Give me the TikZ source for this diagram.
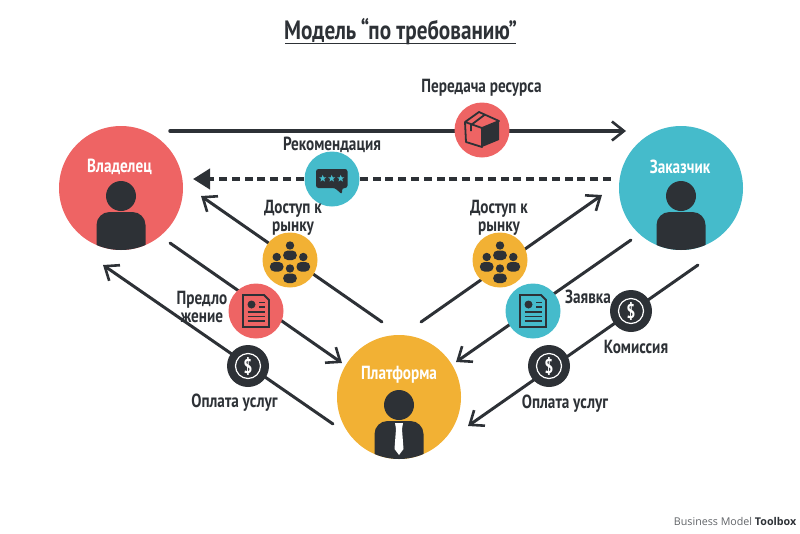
\documentclass[tikz,border=0pt]{standalone}
\usepackage{fontspec}
\setmainfont[FakeStretch=0.8]{PT Sans}
\newfontfamily\footfont{Open Sans}
\usetikzlibrary{arrows.meta,shapes.geometric}
\definecolor{inkdark}{HTML}{2D3136}
\definecolor{redfill}{HTML}{EE6464}
\definecolor{tealfill}{HTML}{45BBCB}
\definecolor{goldfill}{HTML}{F2B134}
\tikzset{
  bigdisc/.style={circle, minimum size=124pt, inner sep=0pt},
  icondisc/.style={circle, minimum size=55pt, inner sep=0pt},
  dollardisc/.style={circle, minimum size=42pt, inner sep=0pt, fill=inkdark},
  flow/.style={draw=inkdark, line width=3pt, line cap=round, -{Straight Barb[length=12pt,width=19pt,line width=2.6pt]}},
  tag/.style={font=\fontsize{19}{18}\selectfont\bfseries, text=inkdark, align=center, inner sep=0pt},
  whitetag/.style={font=\fontsize{19}{19}\selectfont\bfseries, text=white, inner sep=0pt},
  pics/personfig/.style={code={
    \fill[inkdark] (0,8) circle (15);
    \begin{scope}
      \clip (0,0) circle (62);
      \fill[inkdark, rounded corners=13pt] (-24.5,75) -- (-24.5,24) -- (24.5,24) -- (24.5,75) -- cycle;
    \end{scope}
  }},
  pics/minifig/.style={code={
    \fill[inkdark] (0,-4.5) circle (4.2);
    \fill[inkdark, rounded corners=4.5pt] (-6.8,10) -- (-6.8,0.5) -- (6.8,0.5) -- (6.8,10) -- cycle;
  }},
  pics/groupfig/.style={code={
    \pic at (0,-10) {minifig};
    \pic at (-13.3,1.5) {minifig};
    \pic at (13.3,1.5) {minifig};
    \pic at (0,13) {minifig};
  }},
  pics/docfig/.style={code={
    \draw[inkdark, line width=1.8pt, line join=miter] (-13,-16) -- (8,-16) -- (13,-11) -- (13,16) -- (-13,16) -- cycle;
    \fill[inkdark] (-4.5,-6.5) circle (4);
    \draw[inkdark, line width=1.6pt] (3,-8.5) -- (9,-8.5) (3,-4) -- (9,-4) (-8.5,0.8) -- (9,0.8) (-8.5,5.5) -- (9,5.5) (-8.5,10) -- (9,10);
  }},
  pics/dollarfig/.style={code={
    \draw[white, line width=1.2pt] (0,0) circle (12.5);
    \node[text=white, font=\fontsize{20}{20}\selectfont\bfseries, inner sep=0pt] (dollarsign) at (0,0) {\$};
  }}
}
\begin{document}
\begin{tikzpicture}[x=1pt, y=-1pt]
  \useasboundingbox (0,0) rectangle (800,533);
  % Title
  \node[font=\fontsize{26.5}{26.5}\selectfont\bfseries, text=inkdark, inner sep=0pt] (title) at (400.5,32) {Модель\,“по требованию”};
  \draw[inkdark, line width=1.5pt] (285,43.5) -- (516,43.5);
  % Free ends of the connectors
  \coordinate (supplystart) at (170,131);
  \coordinate (supplyend) at (626,131);
  \coordinate (advicestart) at (611,179);
  \coordinate (adviceend) at (188,179);
  \coordinate (accessLstart) at (382,322);
  \coordinate (accessLend) at (201,196);
  \coordinate (offerstart) at (170,243);
  \coordinate (offerend) at (342,363);
  \coordinate (payLstart) at (333,424);
  \coordinate (payLend) at (103,265);
  \coordinate (accessRstart) at (421,322);
  \coordinate (accessRend) at (602,195);
  \coordinate (orderstart) at (631,240);
  \coordinate (orderend) at (456,362);
  \coordinate (payRstart) at (698,265);
  \coordinate (payRend) at (468,426);
  % Connectors
  \draw[flow, line width=3.5pt] (supplystart) -- (supplyend);
  \draw[inkdark, line width=4pt, dash pattern=on 8pt off 4.8pt, -{Triangle[length=17pt,width=20pt,sep=5pt]}] (advicestart) -- (adviceend);
  \draw[flow] (accessLstart) -- (accessLend);
  \draw[flow] (offerstart) -- (offerend);
  \draw[flow] (payLstart) -- (payLend);
  \draw[flow] (accessRstart) -- (accessRend);
  \draw[flow] (orderstart) -- (orderend);
  \draw[flow] (payRstart) -- (payRend);
  % Big circles
  \node[bigdisc, fill=redfill] (owner) at (121,188) {};
  \node[bigdisc, fill=tealfill] (client) at (681,188) {};
  \node[bigdisc, fill=goldfill] (platform) at (399,397) {};
  \pic at (owner) {personfig};
  \pic at (client) {personfig};
  \pic at (platform) {personfig};
  \node[whitetag] (ownertag) at (119.5,166.5) {Владелец};
  \node[whitetag] (clienttag) at (680,167) {Заказчик};
  \node[whitetag] (platformtag) at (399,374.5) {Платформа};
  % Tie
  \fill[white] (395,423) -- (403,423) -- (402,429) -- (403.5,449) -- (399,455) -- (394.5,449) -- (396,429) -- cycle;
  % Icon circles
  \node[icondisc, fill=redfill] (supplydisc) at (482,130) {};
  \node[icondisc, fill=tealfill] (advicedisc) at (332,179) {};
  \node[icondisc, fill=goldfill] (accessLdisc) at (290,260) {};
  \node[icondisc, fill=goldfill] (accessRdisc) at (500,260) {};
  \node[icondisc, fill=redfill] (offerdisc) at (256,311) {};
  \node[icondisc, fill=tealfill] (orderdisc) at (533,311) {};
  \node[dollardisc] (payLdisc) at (248,366) {};
  \node[dollardisc] (feedisc) at (631,311) {};
  \node[dollardisc] (payRdisc) at (549,366) {};
  % Box
  \fill[inkdark] (482,128) -- (499,121) -- (499,140) -- (482,147) -- cycle;
  \draw[inkdark, line width=1.8pt, line join=round] (465,122) -- (479,112) -- (499,121) -- (482,128) -- cycle (465,122) -- (466,142) -- (482,147) -- (482,128);
  \draw[inkdark, line width=1.8pt] (485,114.5) -- (471,125) -- (471,131);
  % Speech bubble
  \fill[inkdark, rounded corners=2.5pt] (316,169) -- (347.5,169) -- (347.5,188) -- (342,188) -- (342,194.5) -- (335,188) -- (316,188) -- cycle;
  \foreach \sx in {322.7,331.7,340.7}
    \node[star, star points=5, star point ratio=2.4, fill=tealfill, minimum size=7.5pt, inner sep=0pt] (star\sx) at (\sx,178.5) {};
  % Other icons
  \pic at (accessLdisc) {groupfig};
  \pic at (accessRdisc) {groupfig};
  \pic at (offerdisc) {docfig};
  \pic at (orderdisc) {docfig};
  \pic at (payLdisc) {dollarfig};
  \pic at (feedisc) {dollarfig};
  \pic at (payRdisc) {dollarfig};
  % Labels
  \node[tag] (supplytag) at (481.5,87.5) {Передача ресурса};
  \node[tag] (advicetag) at (332,144.5) {Рекомендация};
  \node[tag] (accessLtag) at (293,218) {Доступ к\\рынку};
  \node[tag] (accessRtag) at (499,218) {Доступ к\\рынку};
  \node[tag] (offertag) at (202,307) {Предло\\жение};
  \node[tag] (payLtag) at (234.5,402.5) {Оплата услуг};
  \node[tag] (ordertag) at (588,296.5) {Заявка};
  \node[tag] (feetag) at (636,346.5) {Комиссия};
  \node[tag] (payRtag) at (565,403.5) {Оплата услуг};
  % Footer
  \node[anchor=east, inner sep=0pt, font=\footfont\fontsize{10.7}{11}\selectfont, text=inkdark!75] (brand) at (796.5,521) {Business Model \textcolor{inkdark}{\bfseries Toolbox}};
\end{tikzpicture}
\end{document}
